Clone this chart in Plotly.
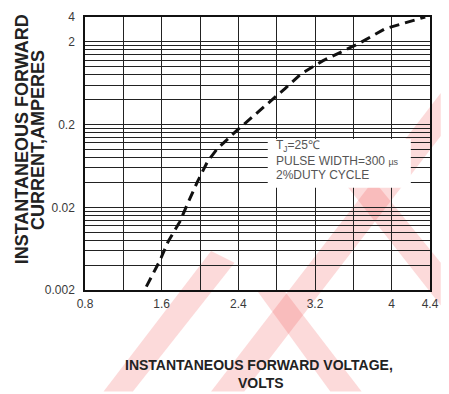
import plotly.graph_objects as go

# Forward characteristic (instantaneous forward voltage vs current)
voltage = [1.44, 1.58, 1.67, 1.79, 1.87, 1.97, 2.08, 2.18, 2.38, 2.72, 2.89, 3.06, 3.28, 3.66, 3.93, 4.35]
current = [0.0022, 0.0045, 0.0078, 0.0134, 0.022, 0.040, 0.072, 0.102, 0.168, 0.366, 0.55, 0.83, 1.18, 1.92, 2.88, 4.0]

# Axis ticks
x_ticks = [0.8, 1.6, 2.4, 3.2, 4.0, 4.4]
x_tick_text = ["0.8", "1.6", "2.4", "3.2", "4", "4.4"]
y_ticks = [0.002, 0.02, 0.2, 2, 4]
y_tick_text = ["0.002", "0.02", "0.2", "2", "4"]

# Log grid: lines at 2..9 x base within each labelled decade
y_minor = []
for base in [0.002, 0.02, 0.2]:
    for k in range(2, 10):
        y_minor.append(round(base * k, 6))

W, H = 449, 394
L, R, T, B = 85, 11, 10, 104


def px(x, y):
    """Pixel position -> paper coordinates."""
    return (x - L) / (W - L - R), (H - B - y) / (H - T - B)


def band(points):
    pts = [px(x, y) for x, y in points]
    return "M " + " L ".join(f"{a:.4f},{b:.4f}" for a, b in pts) + " Z"


# Faint diagonal logo bands in the background
logo_bands = [
    [(214, 394), (248, 394), (449, 132), (449, 88)],
    [(262, 292), (290, 292), (368, 394), (336, 394)],
    [(352, 182), (384, 182), (449, 262), (449, 306)],
    [(104, 394), (134, 394), (238, 262), (214, 250)],
]

fig = go.Figure()

fig.add_trace(go.Scatter(
    x=voltage, y=current, mode="lines",
    line=dict(color="#111111", width=3, dash="10px,6px"),
    hoverinfo="skip", showlegend=False,
))

shapes = []
for b in logo_bands:
    shapes.append(dict(type="path", path=band(b), xref="paper", yref="paper",
                       fillcolor="rgba(238,70,70,0.2)", line=dict(width=0), layer="below"))

# White panel behind the test-condition note
shapes.append(dict(type="rect", xref="x", yref="y", x0=2.707, x1=4.2, y0=0.0345, y1=0.134,
                   fillcolor="white", line=dict(width=0), layer="above"))

fig.update_layout(shapes=shapes)

grid = dict(showgrid=True, gridcolor="#222222", gridwidth=1.2, zeroline=False,
            showline=True, linecolor="#111111", linewidth=1.5, mirror=True, ticks="")
tick_font = dict(family="Liberation Sans, Arial", size=12, color="#3a3a3a")

fig.update_xaxes(range=[0.8, 4.4], tickvals=x_ticks, ticktext=x_tick_text, tickfont=tick_font,
                 ticklabelstandoff=2,
                 minor=dict(dtick=0.4, tick0=0.8, showgrid=True, gridcolor="#222222", gridwidth=1.2, ticks=""),
                 **grid)
fig.update_yaxes(type="log", range=[-2.69897, 0.60206], tickvals=y_ticks, ticktext=y_tick_text,
                 tickfont=tick_font, ticklabelstandoff=6,
                 minor=dict(tickvals=y_minor, showgrid=True, gridcolor="#222222", gridwidth=1.2, ticks=""),
                 **grid)

title_font = dict(family="Liberation Sans, Arial", size=18, color="#222222", weight="bold")
ax_font = dict(family="Liberation Sans, Arial", size=14, color="#222222", weight="bold")
note_font = dict(family="Liberation Sans, Arial", size=12, color="#555555")

note_lines = [
    ("T<sub>J</sub>=25℃", 142),
    ("PULSE WIDTH=300 <span style='font-size:9px'>µs</span>", 158),
    ("2%DUTY CYCLE", 172),
]

annotations = [
    dict(text="INSTANTANEOUS FORWARD", xref="paper", yref="paper",
         x=px(20, 135)[0], y=px(20, 135)[1], textangle=-90, showarrow=False,
         font=title_font, xanchor="center", yanchor="middle"),
    dict(text="CURRENT,AMPERES", xref="paper", yref="paper",
         x=px(37, 136)[0], y=px(37, 136)[1], textangle=-90, showarrow=False,
         font=title_font, xanchor="center", yanchor="middle"),
    dict(text="INSTANTANEOUS FORWARD VOLTAGE,", xref="paper", yref="paper",
         x=px(263, 367)[0], y=px(263, 367)[1], showarrow=False, font=ax_font,
         xanchor="center", yanchor="middle"),
    dict(text="VOLTS", xref="paper", yref="paper",
         x=px(265, 385)[0], y=px(265, 385)[1], showarrow=False, font=ax_font,
         xanchor="center", yanchor="middle"),
]
for text, ypix in note_lines:
    annotations.append(dict(text=text, xref="paper", yref="paper",
                            x=px(278, ypix)[0], y=px(278, ypix)[1], showarrow=False,
                            xanchor="left", yanchor="middle", align="left", font=note_font))

fig.update_layout(
    width=W, height=H,
    margin=dict(l=L, r=R, t=T, b=B),
    paper_bgcolor="white", plot_bgcolor="rgba(0,0,0,0)",
    annotations=annotations,
)

fig.write_html("out.html")
